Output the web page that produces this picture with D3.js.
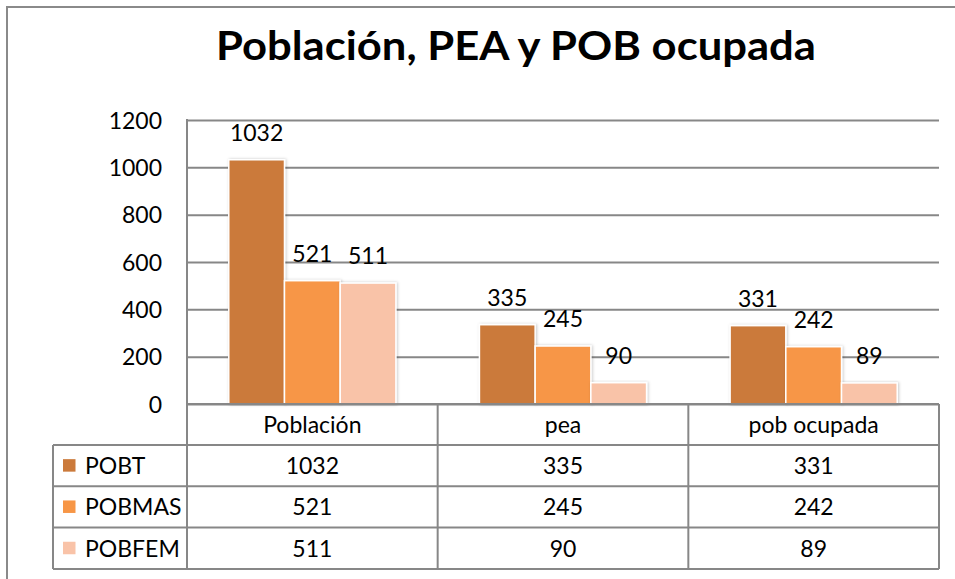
<!DOCTYPE html>
<html><head><meta charset="utf-8">
<script src="https://cdn.jsdelivr.net/npm/d3@7/dist/d3.min.js"></script>
<style>body{margin:0;background:#fff}svg{display:block}text{font-family:Lato,"Open Sans",sans-serif;fill:#000}</style>
</head><body><svg id="c" width="955" height="579"></svg>
<script>
const categories = ["Población", "pea", "pob ocupada"];
const seriesNames = ["POBT", "POBMAS", "POBFEM"];
const POBT = [1032, 335, 331];
const POBMAS = [521, 245, 242];
const POBFEM = [511, 90, 89];
const yTicks = [0, 200, 400, 600, 800, 1000, 1200];
const colors = ["#CB7A3B", "#F79646", "#F9C3A8"];
const title = "Población, PEA y POB ocupada";

const seriesVals = [POBT, POBMAS, POBFEM];
const svg = d3.select("#c");
const L = 187, R = 939, T = 120, B = 404;
const tableLeft = 53, rowH = 41.3, catRowBottom = 445;
const grey = "#878787";

const defs = svg.append("defs");
const f = defs.append("filter").attr("id","sh").attr("x","-20%").attr("y","-10%").attr("width","140%").attr("height","120%");
f.append("feDropShadow").attr("dx",1).attr("dy",0).attr("stdDeviation",1.6).attr("flood-color","#000").attr("flood-opacity",0.22);

// outer border
svg.append("path").attr("d","M7,579 V7 H955").attr("fill","none").attr("stroke","#8a8a8a").attr("stroke-width",2);

// title
const tt = svg.append("text").attr("x",516).attr("y",60).attr("text-anchor","middle")
  .attr("font-weight","bold").attr("font-size",40).text(title);
const tw = tt.node().getComputedTextLength();
if (Math.abs(tw-600) > 4) tt.attr("textLength",600).attr("lengthAdjust","spacingAndGlyphs");

const x = d3.scaleBand().domain(categories).range([L, R]).paddingInner(0).paddingOuter(0);
const x1 = d3.scaleBand().domain(seriesNames).range([0, x.bandwidth()]).paddingInner(0).paddingOuter(0.75);
const y = d3.scaleLinear().domain([0, 1200]).range([B, T]);

// gridlines + y labels
const ya = svg.append("g").attr("transform",`translate(${L},0)`)
  .call(d3.axisLeft(y).tickValues(yTicks).tickSize(-(R-L)).tickPadding(25).tickFormat(d3.format("d")));
ya.select(".domain").remove();
ya.selectAll(".tick line").attr("stroke",grey).attr("stroke-width",2);
ya.selectAll(".tick text").attr("font-size",23).attr("font-family","Lato").attr("fill","#000").attr("dy","0.36em");
svg.append("line").attr("x1",L).attr("x2",L).attr("y1",T-1).attr("y2",B).attr("stroke",grey).attr("stroke-width",2);

// bars
const data = [];
categories.forEach((c,i)=>seriesNames.forEach((s,j)=>data.push({c,s,j,v:seriesVals[j][i]})));
const bars = svg.append("g");
bars.selectAll("rect").data(data).join("rect")
  .attr("x",d=>x(d.c)+x1(d.s)).attr("width",x1.bandwidth())
  .attr("y",d=>y(d.v)).attr("height",d=>y(0)-y(d.v))
  .attr("fill",d=>colors[d.j]).attr("stroke","#fff").attr("stroke-width",1.5)
  .attr("filter","url(#sh)");
bars.selectAll("text").data(data).join("text")
  .attr("x",d=>x(d.c)+x1(d.s)+x1.bandwidth()/2).attr("y",d=>y(d.v)-19)
  .attr("text-anchor","middle").attr("font-size",23).text(d=>d.v);

// data table
const tg = svg.append("g");
const ln = (x1_,y1_,x2_,y2_)=>tg.append("line").attr("x1",x1_).attr("y1",y1_).attr("x2",x2_).attr("y2",y2_).attr("stroke",grey).attr("stroke-width",2);
const rowsY = seriesNames.map((s,j)=>catRowBottom + j*rowH);
const tableBottom = catRowBottom + seriesNames.length*rowH;
ln(L,B,R,B);
rowsY.forEach(yy=>ln(tableLeft,yy,R,yy));
ln(tableLeft,tableBottom,R,tableBottom);
ln(tableLeft,catRowBottom,tableLeft,tableBottom);
categories.forEach(c=>ln(x(c),B,x(c),tableBottom));
ln(R,B,R,tableBottom);

tg.selectAll("text.cat").data(categories).join("text").attr("class","cat")
  .attr("x",d=>x(d)+x.bandwidth()/2).attr("y",(B+catRowBottom)/2+8.5)
  .attr("text-anchor","middle").attr("font-size",23).text(d=>d);

seriesNames.forEach((s,j)=>{
  const cy = rowsY[j] + rowH/2;
  tg.append("rect").attr("x",63).attr("y",cy-6.5).attr("width",12.5).attr("height",12.5).attr("fill",colors[j]);
  tg.append("text").attr("x",85).attr("y",cy+8.5).attr("font-size",23).text(s);
  categories.forEach((c,i)=>{
    tg.append("text").attr("x",x(c)+x.bandwidth()/2).attr("y",cy+8.5)
      .attr("text-anchor","middle").attr("font-size",23).text(seriesVals[j][i]);
  });
});
</script></body></html>
